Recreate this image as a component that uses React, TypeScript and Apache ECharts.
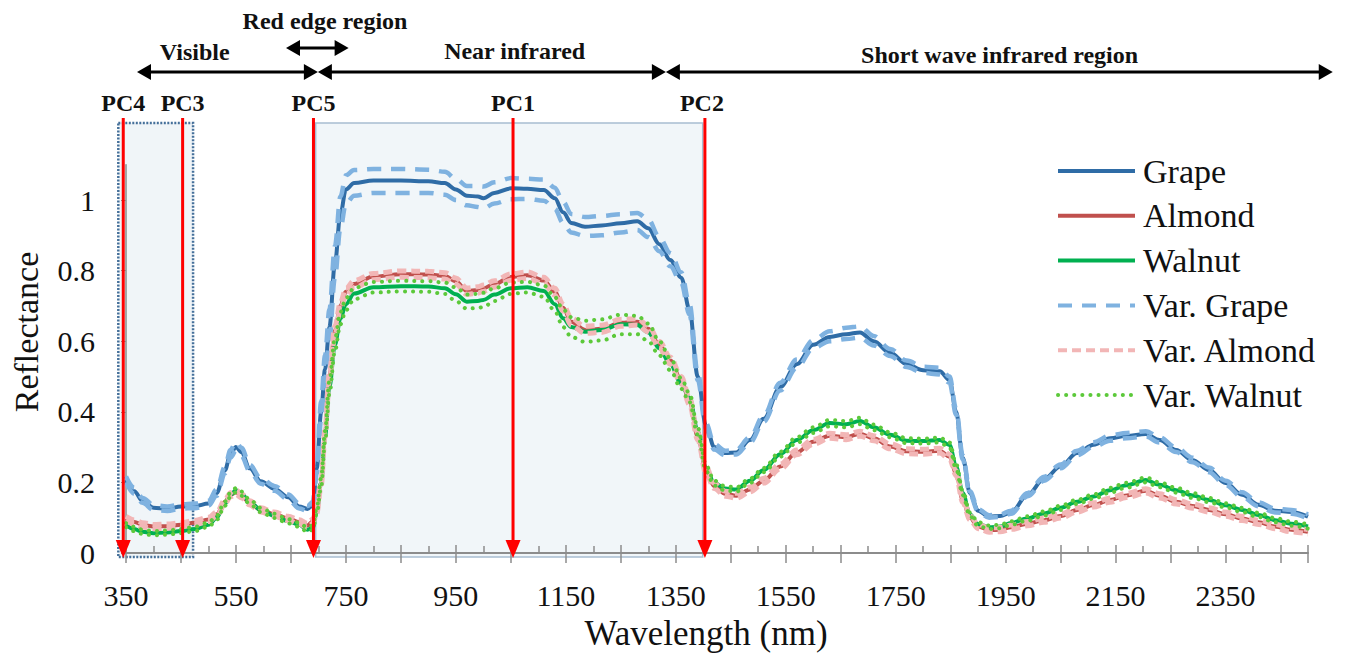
import React, { useEffect, useRef } from 'react';
import * as echarts from 'echarts';

const FONT = '"Liberation Serif", "Times New Roman", serif';

// Wavelength grid (nm)
const wavelengths = [
  350, 365, 380, 400, 425, 450, 475, 500, 515, 530,
  540, 550, 560, 575, 595, 620, 645, 665, 680, 690,
  697, 705, 712, 720, 730, 740, 750, 765, 800, 850,
  900, 930, 950, 970, 990, 1000, 1020, 1050, 1080, 1110,
  1130, 1145, 1160, 1185, 1215, 1250, 1280, 1300, 1320, 1340,
  1360, 1375, 1390, 1405, 1420, 1440, 1460, 1485, 1510, 1540,
  1570, 1600, 1630, 1660, 1685, 1710, 1740, 1770, 1800, 1830,
  1848, 1860, 1872, 1885, 1900, 1920, 1940, 1960, 1990, 2020,
  2050, 2080, 2110, 2140, 2170, 2205, 2230, 2260, 2290, 2320,
  2350, 2380, 2410, 2440, 2470, 2500,
];

const grape = [
  0.207, 0.175, 0.148, 0.128, 0.125, 0.132, 0.133, 0.140, 0.170, 0.235,
  0.280, 0.300, 0.285, 0.240, 0.203, 0.182, 0.158, 0.132, 0.125, 0.135,
  0.240, 0.400, 0.520, 0.640, 0.820, 0.960, 1.030, 1.048, 1.055, 1.055,
  1.053, 1.048, 1.030, 1.012, 1.010, 1.005, 1.020, 1.033, 1.032, 1.028,
  1.005, 0.965, 0.935, 0.924, 0.928, 0.934, 0.940, 0.920, 0.875, 0.830,
  0.780, 0.690, 0.500, 0.360, 0.300, 0.283, 0.285, 0.320, 0.380, 0.470,
  0.535, 0.590, 0.612, 0.620, 0.625, 0.600, 0.567, 0.535, 0.518, 0.515,
  0.490, 0.400, 0.270, 0.170, 0.120, 0.103, 0.105, 0.115, 0.165, 0.210,
  0.245, 0.283, 0.307, 0.325, 0.332, 0.337, 0.320, 0.292, 0.263, 0.235,
  0.198, 0.165, 0.137, 0.120, 0.116, 0.103,
];

const grapeVarUpper = [
  0.217, 0.185, 0.156, 0.136, 0.132, 0.138, 0.140, 0.148, 0.180, 0.245,
  0.292, 0.315, 0.298, 0.250, 0.212, 0.190, 0.166, 0.140, 0.133, 0.145,
  0.260, 0.430, 0.560, 0.690, 0.870, 1.010, 1.070, 1.085, 1.088, 1.088,
  1.086, 1.080, 1.060, 1.040, 1.040, 1.038, 1.050, 1.062, 1.060, 1.058,
  1.035, 0.995, 0.960, 0.952, 0.955, 0.960, 0.963, 0.945, 0.895, 0.850,
  0.795, 0.705, 0.510, 0.368, 0.308, 0.290, 0.292, 0.328, 0.390, 0.482,
  0.548, 0.603, 0.628, 0.638, 0.642, 0.615, 0.578, 0.545, 0.528, 0.525,
  0.500, 0.408, 0.276, 0.175, 0.124, 0.107, 0.109, 0.120, 0.170, 0.216,
  0.251, 0.290, 0.314, 0.333, 0.340, 0.345, 0.328, 0.299, 0.270, 0.242,
  0.205, 0.172, 0.143, 0.126, 0.122, 0.109,
];

const grapeVarLower = [
  0.200, 0.168, 0.142, 0.122, 0.119, 0.126, 0.127, 0.134, 0.162, 0.226,
  0.270, 0.290, 0.275, 0.232, 0.196, 0.176, 0.152, 0.126, 0.119, 0.128,
  0.225, 0.380, 0.495, 0.610, 0.780, 0.920, 0.990, 1.012, 1.020, 1.020,
  1.020, 1.015, 1.000, 0.985, 0.980, 0.976, 0.990, 1.002, 1.003, 0.998,
  0.975, 0.935, 0.908, 0.898, 0.900, 0.908, 0.915, 0.895, 0.855, 0.812,
  0.765, 0.675, 0.490, 0.352, 0.293, 0.277, 0.279, 0.313, 0.372, 0.460,
  0.525, 0.580, 0.600, 0.606, 0.610, 0.588, 0.558, 0.527, 0.510, 0.506,
  0.482, 0.392, 0.265, 0.166, 0.117, 0.100, 0.102, 0.111, 0.161, 0.205,
  0.240, 0.277, 0.301, 0.318, 0.325, 0.330, 0.313, 0.286, 0.257, 0.229,
  0.192, 0.159, 0.132, 0.115, 0.111, 0.098,
];

const almond = [
  0.098, 0.088, 0.080, 0.075, 0.076, 0.080, 0.086, 0.095, 0.110, 0.145,
  0.165, 0.172, 0.162, 0.142, 0.122, 0.110, 0.098, 0.088, 0.078, 0.090,
  0.120, 0.200, 0.340, 0.500, 0.630, 0.700, 0.740, 0.762, 0.783, 0.790,
  0.789, 0.785, 0.770, 0.742, 0.745, 0.750, 0.762, 0.782, 0.787, 0.772,
  0.740, 0.695, 0.655, 0.632, 0.635, 0.652, 0.655, 0.635, 0.590, 0.545,
  0.490, 0.430, 0.330, 0.235, 0.190, 0.168, 0.162, 0.180, 0.205, 0.245,
  0.285, 0.315, 0.332, 0.328, 0.338, 0.325, 0.302, 0.288, 0.287, 0.290,
  0.273, 0.226, 0.150, 0.100, 0.075, 0.065, 0.066, 0.073, 0.083, 0.093,
  0.105, 0.122, 0.136, 0.150, 0.163, 0.176, 0.162, 0.145, 0.133, 0.122,
  0.110, 0.098, 0.087, 0.075, 0.066, 0.060,
];

const almondVarUpper = [
  0.104, 0.094, 0.086, 0.081, 0.082, 0.086, 0.092, 0.101, 0.116, 0.151,
  0.171, 0.178, 0.168, 0.148, 0.128, 0.116, 0.104, 0.094, 0.084, 0.096,
  0.128, 0.210, 0.352, 0.512, 0.642, 0.710, 0.750, 0.772, 0.792, 0.799,
  0.798, 0.794, 0.779, 0.751, 0.754, 0.759, 0.771, 0.791, 0.796, 0.781,
  0.750, 0.705, 0.665, 0.642, 0.645, 0.662, 0.664, 0.644, 0.600, 0.555,
  0.500, 0.440, 0.340, 0.245, 0.197, 0.175, 0.169, 0.187, 0.212, 0.252,
  0.292, 0.322, 0.339, 0.335, 0.345, 0.332, 0.309, 0.295, 0.294, 0.297,
  0.280, 0.233, 0.157, 0.106, 0.081, 0.071, 0.072, 0.079, 0.089, 0.099,
  0.111, 0.128, 0.142, 0.156, 0.169, 0.182, 0.168, 0.151, 0.139, 0.128,
  0.116, 0.104, 0.093, 0.081, 0.072, 0.066,
];

const almondVarLower = [
  0.092, 0.082, 0.074, 0.069, 0.070, 0.074, 0.080, 0.089, 0.104, 0.139,
  0.159, 0.166, 0.156, 0.136, 0.116, 0.104, 0.092, 0.082, 0.072, 0.084,
  0.112, 0.190, 0.328, 0.488, 0.618, 0.690, 0.730, 0.752, 0.774, 0.781,
  0.780, 0.776, 0.761, 0.733, 0.736, 0.741, 0.753, 0.773, 0.778, 0.763,
  0.730, 0.685, 0.645, 0.622, 0.625, 0.642, 0.646, 0.626, 0.580, 0.535,
  0.480, 0.420, 0.320, 0.225, 0.183, 0.161, 0.155, 0.173, 0.198, 0.238,
  0.278, 0.308, 0.325, 0.321, 0.331, 0.318, 0.295, 0.281, 0.280, 0.283,
  0.266, 0.219, 0.143, 0.094, 0.069, 0.059, 0.060, 0.067, 0.077, 0.087,
  0.099, 0.116, 0.130, 0.144, 0.157, 0.170, 0.156, 0.139, 0.127, 0.116,
  0.104, 0.092, 0.081, 0.069, 0.060, 0.054,
];

const walnut = [
  0.079, 0.068, 0.060, 0.056, 0.058, 0.062, 0.068, 0.080, 0.100, 0.140,
  0.165, 0.178, 0.168, 0.145, 0.122, 0.105, 0.090, 0.080, 0.066, 0.072,
  0.120, 0.200, 0.330, 0.470, 0.590, 0.665, 0.705, 0.735, 0.753, 0.756,
  0.755, 0.750, 0.733, 0.712, 0.714, 0.717, 0.732, 0.750, 0.753, 0.742,
  0.705, 0.665, 0.640, 0.627, 0.632, 0.648, 0.646, 0.625, 0.580, 0.535,
  0.480, 0.440, 0.345, 0.240, 0.198, 0.183, 0.180, 0.205, 0.235, 0.280,
  0.320, 0.348, 0.368, 0.365, 0.374, 0.356, 0.335, 0.318, 0.317, 0.320,
  0.306, 0.245, 0.170, 0.110, 0.082, 0.073, 0.075, 0.085, 0.098, 0.112,
  0.128, 0.145, 0.160, 0.178, 0.192, 0.207, 0.193, 0.178, 0.163, 0.150,
  0.135, 0.122, 0.108, 0.093, 0.083, 0.075,
];

const walnutVarUpper = [
  0.085, 0.074, 0.066, 0.062, 0.064, 0.068, 0.074, 0.086, 0.106, 0.146,
  0.171, 0.184, 0.174, 0.151, 0.128, 0.111, 0.096, 0.086, 0.072, 0.078,
  0.128, 0.212, 0.345, 0.488, 0.608, 0.682, 0.722, 0.751, 0.768, 0.771,
  0.770, 0.766, 0.752, 0.732, 0.734, 0.737, 0.750, 0.766, 0.768, 0.758,
  0.725, 0.690, 0.668, 0.658, 0.662, 0.675, 0.672, 0.650, 0.600, 0.552,
  0.495, 0.452, 0.355, 0.248, 0.205, 0.189, 0.186, 0.211, 0.241, 0.287,
  0.328, 0.356, 0.377, 0.374, 0.383, 0.364, 0.342, 0.325, 0.324, 0.327,
  0.313, 0.252, 0.176, 0.115, 0.087, 0.078, 0.080, 0.090, 0.104, 0.118,
  0.134, 0.151, 0.166, 0.185, 0.199, 0.214, 0.200, 0.185, 0.170, 0.156,
  0.141, 0.128, 0.114, 0.099, 0.089, 0.081,
];

const walnutVarLower = [
  0.073, 0.062, 0.054, 0.050, 0.052, 0.056, 0.062, 0.074, 0.094, 0.134,
  0.159, 0.172, 0.162, 0.139, 0.116, 0.099, 0.084, 0.074, 0.060, 0.066,
  0.112, 0.188, 0.315, 0.452, 0.572, 0.648, 0.688, 0.719, 0.738, 0.741,
  0.740, 0.734, 0.714, 0.692, 0.694, 0.697, 0.714, 0.734, 0.738, 0.726,
  0.685, 0.640, 0.612, 0.598, 0.602, 0.620, 0.620, 0.600, 0.560, 0.518,
  0.465, 0.428, 0.335, 0.232, 0.191, 0.177, 0.174, 0.199, 0.229, 0.273,
  0.312, 0.340, 0.359, 0.356, 0.365, 0.348, 0.328, 0.311, 0.310, 0.313,
  0.299, 0.238, 0.164, 0.105, 0.077, 0.068, 0.070, 0.080, 0.092, 0.106,
  0.122, 0.139, 0.154, 0.171, 0.185, 0.200, 0.186, 0.171, 0.156, 0.144,
  0.129, 0.116, 0.102, 0.087, 0.077, 0.069,
];

const legendNames = ['Grape', 'Almond', 'Walnut', 'Var. Grape', 'Var. Almond', 'Var. Walnut'];

// Annotation positions (nm)
const pcLabels = ['PC4', 'PC3', 'PC5', 'PC1', 'PC2'];
const pcWavelengths = [345, 453, 691, 1054, 1403];
const shadedRegions = [[336, 472], [695, 1399]];
const regionEdges = [370, 699, 1332, 2545];
const regionNames = ['Visible', 'Near infrared', 'Short wave infrared region'];
const regionLabelCenters = [475, 1057, 1939];
const redEdge = [641, 755];

export default function App() {
  const ref = useRef<HTMLDivElement>(null);

  useEffect(() => {
    const chart = echarts.init(ref.current!, null, { renderer: 'svg' });
    const pairs = (arr: number[]) => wavelengths.map((w, i) => [w, arr[i]]);
    const mk = (name: string, arr: number[], color: string, width: number, type: any, cap = 'butt') => ({
      type: 'line',
      name,
      data: pairs(arr),
      symbol: 'none',
      showSymbol: false,
      smooth: 0.35,
      smoothMonotone: 'x',
      silent: true,
      emphasis: { disabled: true },
      lineStyle: { color, width, type, cap },
      itemStyle: { color },
    });

    const axisGray = '#8c8c8c';

    chart.setOption({
      animation: false,
      backgroundColor: '#ffffff',
      grid: { left: 126, right: 37, top: 164.7, bottom: 106, outerBoundsMode: 'none' },
      xAxis: [
        {
          type: 'value', min: 350, max: 2500, interval: 100, position: 'bottom',
          axisLine: { show: true, lineStyle: { color: axisGray, width: 2 } },
          axisTick: { show: true, inside: true, length: 8, lineStyle: { color: axisGray, width: 1.5 } },
          minorTick: { show: true, splitNumber: 2, length: 7, lineStyle: { color: axisGray, width: 1.5 } },
          axisLabel: {
            fontSize: 30, fontFamily: FONT, color: '#111', margin: 27, showMaxLabel: false,
            formatter: (v: number) => ((Math.round(v) - 350) % 200 === 0 ? String(Math.round(v)) : ''),
          },
          splitLine: { show: false },
        },
        {
          type: 'value', min: 350, max: 2500, interval: 100, position: 'bottom',
          axisLine: { show: false },
          axisTick: { show: true, inside: false, length: 10, lineStyle: { color: axisGray, width: 1.5 } },
          axisLabel: { show: false },
          splitLine: { show: false },
        },
      ],
      yAxis: {
        type: 'value', min: 0, max: 1.1, interval: 0.2,
        axisLine: { show: true, lineStyle: { color: axisGray, width: 1.5 } },
        axisTick: { show: true, length: 5, lineStyle: { color: axisGray } },
        axisLabel: {
          fontSize: 30, fontFamily: FONT, color: '#111', margin: 31, showMaxLabel: false,
          formatter: (v: number) => String(Math.round(v * 10) / 10),
        },
        splitLine: { show: false },
      },
      legend: {
        orient: 'vertical', left: 1056, top: 154, padding: 0,
        itemWidth: 77, itemHeight: 4, itemGap: 10.8,
        data: legendNames, selectedMode: false,
        textStyle: { fontSize: 34, lineHeight: 32, fontFamily: FONT, color: '#111', padding: [0, 0, 0, 3] },
        lineStyle: { width: 4 },
        itemStyle: { opacity: 0 },
      },
      series: [
        mk('Grape', grape, '#2f6ca6', 4, 'solid'),
        mk('Almond', almond, '#c0504d', 4, 'solid'),
        mk('Walnut', walnut, '#00b050', 4, 'solid'),
        mk('Var. Grape', grapeVarUpper, '#7fb2e0', 4.5, [14, 10]),
        mk('Var. Grape', grapeVarLower, '#7fb2e0', 4.5, [14, 10]),
        mk('Var. Almond', almondVarUpper, '#f2b6b6', 5, [9, 5]),
        mk('Var. Almond', almondVarLower, '#f2b6b6', 5, [9, 5]),
        mk('Var. Walnut', walnutVarUpper, '#5cc93a', 4, [0.1, 8], 'round'),
        mk('Var. Walnut', walnutVarLower, '#5cc93a', 4, [0.1, 8], 'round'),
      ],
    });

    const P = (x: number, y: number) => chart.convertToPixel({ gridIndex: 0 }, [x, y]) as number[];
    const y0 = P(350, 0)[1];
    const yTop = P(350, 1.218)[1];
    const g: any[] = [];

    // Shaded regions
    shadedRegions.forEach(([a, b], i) => {
      const x0 = P(a, 0)[0];
      const x1 = P(b, 0)[0];
      g.push({
        type: 'rect', z: 0, silent: true,
        shape: { x: x0, y: yTop, width: x1 - x0, height: y0 + 4 - yTop },
        style: i === 0
          ? { fill: '#f0f5f8', stroke: '#45709a', lineWidth: 2.5, lineDash: [2, 1.5] }
          : { fill: '#f1f6f9', stroke: '#a8bdd1', lineWidth: 1.5 },
      });
    });

    // Red PC arrows and labels
    pcWavelengths.forEach((w, i) => {
      const x = P(w, 0)[0];
      g.push({ type: 'line', z: 50, silent: true, shape: { x1: x, y1: 118, x2: x, y2: y0 - 10 }, style: { stroke: '#ff0000', lineWidth: 3 } });
      g.push({ type: 'polygon', z: 50, silent: true, shape: { points: [[x - 7.5, y0 - 13], [x + 7.5, y0 - 13], [x, y0 + 5]] }, style: { fill: '#ff0000' } });
      g.push({
        type: 'text', z: 50, silent: true, x: x + (pcLabels[i] === 'PC2' ? -3 : 0), y: 103,
        style: { text: pcLabels[i], fontSize: 24, fontWeight: 'bold', fontFamily: FONT, fill: '#111', align: 'center', verticalAlign: 'middle' },
      });
    });

    // Header arrows
    const head = (tipX: number, y: number, dir: number) => ({
      type: 'polygon', z: 50, silent: true,
      shape: { points: [[tipX, y], [tipX - dir * 14, y - 8], [tipX - dir * 14, y + 8]] },
      style: { fill: '#000' },
    });
    const dbl = (xa: number, xb: number, y: number) => {
      g.push({ type: 'line', z: 50, silent: true, shape: { x1: xa + 10, y1: y, x2: xb - 10, y2: y }, style: { stroke: '#000', lineWidth: 3 } });
      g.push(head(xa, y, -1));
      g.push(head(xb, y, 1));
    };
    for (let i = 0; i < regionEdges.length - 1; i++) {
      dbl(P(regionEdges[i], 0)[0], P(regionEdges[i + 1], 0)[0], 72);
    }
    dbl(P(redEdge[0], 0)[0], P(redEdge[1], 0)[0], 48);

    const hdrY = [52, 51, 55];
    regionNames.forEach((n, i) => {
      g.push({
        type: 'text', z: 50, silent: true, x: P(regionLabelCenters[i], 0)[0], y: hdrY[i],
        style: { text: n, fontSize: 24, fontWeight: 'bold', fontFamily: FONT, fill: '#111', align: 'center', verticalAlign: 'middle' },
      });
    });
    g.push({
      type: 'text', z: 50, silent: true, x: P(712, 0)[0], y: 21,
      style: { text: 'Red edge region', fontSize: 24, fontWeight: 'bold', fontFamily: FONT, fill: '#111', align: 'center', verticalAlign: 'middle' },
    });

    // Axis titles
    g.push({
      type: 'text', z: 50, silent: true, x: 26, y: 332, rotation: Math.PI / 2,
      style: { text: 'Reflectance', fontSize: 34, fontFamily: FONT, fill: '#111', align: 'center', verticalAlign: 'middle' },
    });
    g.push({
      type: 'text', z: 50, silent: true, x: 706, y: 633,
      style: { text: 'Wavelength (nm)', fontSize: 35, fontFamily: FONT, fill: '#111', align: 'center', verticalAlign: 'middle' },
    });

    chart.setOption({ graphic: g });

    return () => chart.dispose();
  }, []);

  return (
    <div
      ref={ref}
      style={{ position: 'fixed', left: 0, top: 0, width: 1345, height: 659, background: '#fff' }}
    />
  );
}
